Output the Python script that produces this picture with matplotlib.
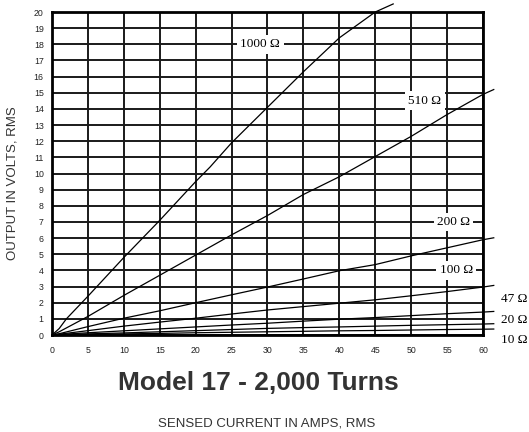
import numpy as np
import matplotlib.pyplot as plt

# sensed current (A) and output voltage (V rms) for each burden resistor
amps_1000 = [0, 1, 2, 5, 10, 15, 20, 22, 25, 30, 35, 40, 45, 47.5]
volts_1000 = [0, 0.4, 1.0, 2.4, 4.8, 7.1, 9.5, 10.4, 11.9, 14.1, 16.3, 18.4, 20.0, 20.5]

amps_510 = [0, 1, 5, 10, 15, 20, 25, 30, 35, 40, 45, 50, 55, 60, 61.5]
volts_510 = [0, 0.2, 1.15, 2.45, 3.7, 4.95, 6.2, 7.4, 8.7, 9.8, 11.05, 12.3, 13.65, 14.9, 15.2]

amps_200 = [0, 1, 5, 10, 15, 20, 25, 30, 35, 40, 45, 50, 55, 60, 61.5]
volts_200 = [0, 0.08, 0.52, 1.04, 1.5, 2.0, 2.49, 2.97, 3.47, 3.98, 4.36, 4.9, 5.4, 5.9, 6.02]

amps_100 = [0, 1, 5, 10, 15, 20, 25, 30, 35, 40, 45, 50, 55, 60, 61.5]
volts_100 = [0, 0.05, 0.27, 0.55, 0.8, 1.04, 1.3, 1.55, 1.76, 1.97, 2.18, 2.43, 2.69, 2.97, 3.07]

amps_47 = [0, 1, 5, 10, 15, 20, 25, 30, 35, 40, 45, 50, 55, 60, 61.5]
volts_47 = [0, 0.03, 0.14, 0.26, 0.38, 0.5, 0.62, 0.73, 0.86, 0.98, 1.08, 1.2, 1.32, 1.42, 1.46]

amps_20 = [0, 1, 5, 10, 15, 20, 25, 30, 35, 40, 45, 50, 55, 60, 61.5]
volts_20 = [0, 0.02, 0.07, 0.13, 0.2, 0.27, 0.34, 0.41, 0.46, 0.5, 0.55, 0.6, 0.64, 0.68, 0.7]

amps_10 = [0, 1, 5, 10, 15, 20, 25, 30, 35, 40, 45, 50, 55, 60, 61.5]
volts_10 = [0, 0.01, 0.04, 0.07, 0.1, 0.14, 0.17, 0.2, 0.23, 0.26, 0.28, 0.31, 0.34, 0.36, 0.37]

curves = [
    (amps_1000, volts_1000),
    (amps_510, volts_510),
    (amps_200, volts_200),
    (amps_100, volts_100),
    (amps_47, volts_47),
    (amps_20, volts_20),
    (amps_10, volts_10),
]

# labels sitting on the grid (x, y in data units)
inside_labels = [("1000 Ω", 29.0, 18.0), ("510 Ω", 51.9, 14.5),
                 ("200 Ω", 55.9, 7.0), ("100 Ω", 56.3, 4.0)]
# labels outside the right edge
outside_labels = [("47 Ω", 2.2), ("20 Ω", 0.95), ("10 Ω", -0.3)]

fig = plt.figure(figsize=(5.29, 4.32), dpi=100)
ax = fig.add_axes([0.0983, 0.2245, 0.8147, 0.7477])

ax.set_xlim(0, 60)
ax.set_ylim(0, 20)
ax.set_xticks(np.arange(0, 61, 5))
ax.set_yticks(np.arange(0, 21, 1))
ax.grid(True, color='#1a1a1a', linewidth=1.4)
ax.set_axisbelow(True)
for s in ax.spines.values():
    s.set_linewidth(2.0)
    s.set_color('black')
ax.tick_params(length=0, labelsize=6.3, colors='#222222')
ax.tick_params(axis='x', pad=8)
ax.tick_params(axis='y', pad=6)
for lab in ax.get_xticklabels() + ax.get_yticklabels():
    lab.set_fontfamily('Liberation Sans')

for x, y in curves:
    ax.plot(x, y, color='black', linewidth=0.9, clip_on=False, zorder=3)

for txt, x, y in inside_labels:
    ax.text(x, y, txt, family='Liberation Serif', fontsize=9.5, ha='center', va='center',
            zorder=4, bbox=dict(facecolor='white', edgecolor='none', pad=2.5))
for txt, y in outside_labels:
    ax.text(62.5, y, txt, family='Liberation Serif', fontsize=9.5, ha='left', va='center',
            clip_on=False)

ax.set_ylabel('OUTPUT IN VOLTS, RMS', family='Liberation Sans', fontsize=9.5,
              color='#333333', labelpad=9)
ax.yaxis.set_label_coords(-0.078, 0.47)
fig.text(0.488, 0.113, 'Model 17 - 2,000 Turns', family='Liberation Sans',
         fontsize=19, fontweight='bold', color='#333333', ha='center', va='center')
fig.text(0.505, 0.02, 'SENSED CURRENT IN AMPS, RMS', family='Liberation Sans',
         fontsize=9.5, color='#333333', ha='center', va='center')

fig.savefig('out.png', dpi=100)
